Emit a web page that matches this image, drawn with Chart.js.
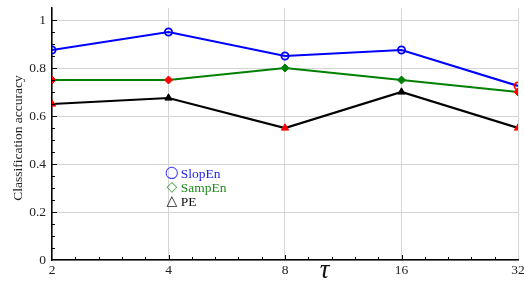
<!DOCTYPE html>
<html><head><meta charset="utf-8">
<script src="https://cdn.jsdelivr.net/npm/chart.js@4/dist/chart.umd.min.js"></script>
<style>html,body{margin:0;padding:0;background:#fff;}canvas{display:block;}</style>
</head><body>
<canvas id="c" width="524" height="282"></canvas>
<script>
const tauValues = [2, 4, 8, 16, 32];
const slopEn = [0.875, 0.95, 0.85, 0.875, 0.725];
const sampEn = [0.75, 0.75, 0.8, 0.75, 0.7];
const pe = [0.65, 0.675, 0.55, 0.7, 0.55];
const yTicks = [0, 0.2, 0.4, 0.6, 0.8, 1];
const seriesNames = ['SlopEn', 'SampEn', 'PE'];
const legendGlyphs = ['\u25CB', '\u25C7', '\u25B3'];
const yTitle = 'Classification accuracy';
const xTitle = '\u03C4';
// which points are highlighted red
const slopRed = [false, false, false, false, true];
const sampRed = [true, true, false, false, true];
const peRed = [true, false, true, false, true];

const RED = '#ff0000';
const serif = "'Liberation Serif', 'DejaVu Serif', serif";
function pts(arr){ return tauValues.map((t,i)=>({x:t,y:arr[i]})); }
function cols(base, redArr){ return redArr.map(r=>r?RED:base); }

const overlay = {
  id:'overlay',
  afterDraw(chart){
    const ctx = chart.ctx, a = chart.chartArea;
    const xs = chart.scales.x, ys = chart.scales.y;
    ctx.save();
    ctx.strokeStyle = '#000'; ctx.lineWidth = 1;
    ctx.beginPath();
    for (let v = 0.05; v < 1.05; v += 0.05) {
      const py = Math.round(ys.getPixelForValue(v)) + 0.5;
      const len = (Math.abs(v*5 - Math.round(v*5)) < 1e-6) ? 5 : 3;
      ctx.moveTo(a.left, py); ctx.lineTo(a.left + len, py);
    }
    for (let i = 0; i < tauValues.length - 1; i++) {
      const p0 = xs.getPixelForValue(tauValues[i]), p1 = xs.getPixelForValue(tauValues[i+1]);
      for (let k = 1; k < 5; k++) {
        const px = Math.round(p0 + (p1 - p0) * k / 5) + 0.5;
        ctx.moveTo(px, a.bottom); ctx.lineTo(px, a.bottom - 3);
      }
      if (i > 0) { const px = Math.round(p0)+0.5; ctx.moveTo(px, a.bottom); ctx.lineTo(px, a.bottom - 5); }
    }
    ctx.stroke();
    ctx.fillStyle = '#222';
    ctx.font = "13.5px " + serif;
    ctx.textAlign = 'center'; ctx.textBaseline = 'middle';
    ctx.translate(18, (a.top + a.bottom)/2 + 4);
    ctx.rotate(-Math.PI/2);
    ctx.fillText(yTitle, 0, 0);
    ctx.restore();
    ctx.save();
    ctx.fillStyle = '#111';
    ctx.font = "italic 27px " + serif;
    ctx.textAlign = 'center'; ctx.textBaseline = 'middle';
    ctx.fillText(xTitle, a.left + (a.right - a.left) * 0.585, 271);
    const lx = a.left + (a.right - a.left) * 0.257;
    const ly = a.top + (a.bottom - a.top) * 0.655;
    const colors = ['#3a3aff', '#3aa03a', '#222'];
    const tcolors = ['#2222ee', '#1e8a1e', '#111'];
    for (let i = 0; i < 3; i++) {
      const y = ly + i * 14;
      ctx.fillStyle = colors[i];
      ctx.font = (i===0 ? "16px " : "14px ") + "'DejaVu Sans', sans-serif";
      ctx.textAlign = 'center';
      ctx.fillText(legendGlyphs[i], lx, y);
      ctx.fillStyle = tcolors[i];
      ctx.font = "13.5px " + serif;
      ctx.textAlign = 'left';
      ctx.fillText(seriesNames[i], lx + 9, y + 1);
    }
    ctx.restore();
  }
};

new Chart(document.getElementById('c'), {
  type: 'line',
  data: {
    datasets: [
      { label: seriesNames[0], data: pts(slopEn), borderColor: '#0000ff', borderWidth: 2.2,
        pointStyle: 'circle', pointRadius: 3.6, pointBorderWidth: 1.8,
        pointBorderColor: cols('#0000ff', slopRed), pointBackgroundColor: 'rgba(255,255,255,0)' },
      { label: seriesNames[1], data: pts(sampEn), borderColor: '#008000', borderWidth: 2.2,
        pointStyle: 'rectRot', pointRadius: 4, pointBorderWidth: 1,
        pointBorderColor: cols('#008000', sampRed), pointBackgroundColor: cols('#008000', sampRed) },
      { label: seriesNames[2], data: pts(pe), borderColor: '#000000', borderWidth: 2.2,
        pointStyle: 'triangle', pointRadius: 4.2, pointBorderWidth: 1,
        pointBorderColor: cols('#000000', peRed), pointBackgroundColor: cols('#000000', peRed) }
    ]
  },
  options: {
    responsive: false, animation: false,
    layout: { padding: { top: 8, right: 6, left: 0, bottom: 0 } },
    plugins: { legend: { display: false }, tooltip: { enabled: false } },
    elements: { line: { tension: 0 } },
    scales: {
      x: {
        type: 'logarithmic', min: 2, max: 32,
        afterBuildTicks: s => { s.ticks = tauValues.map(v => ({ value: v })); },
        afterFit: s => { s.height = 22; s.paddingLeft = 0; s.paddingRight = 0; },
        ticks: { color: '#222', font: { family: serif, size: 13.5 }, padding: 2, maxRotation: 0, autoSkip: false,
                 callback: v => String(v) },
        grid: { color: '#d4d4d4', lineWidth: 1, drawTicks: false },
        border: { color: '#000', width: 1.5 }
      },
      y: {
        min: 0, max: 1.05,
        afterBuildTicks: s => { s.ticks = yTicks.map(v => ({ value: v })); },
        afterFit: s => { s.width = 52; s.paddingTop = 0; s.paddingBottom = 0; },
        ticks: { color: '#222', font: { family: serif, size: 13.5 }, padding: 6,
                 callback: v => String(+v.toFixed(2)) },
        grid: { color: '#d4d4d4', lineWidth: 1, drawTicks: false },
        border: { color: '#000', width: 1.5 }
      }
    }
  },
  plugins: [overlay]
});
</script>
</body></html>
